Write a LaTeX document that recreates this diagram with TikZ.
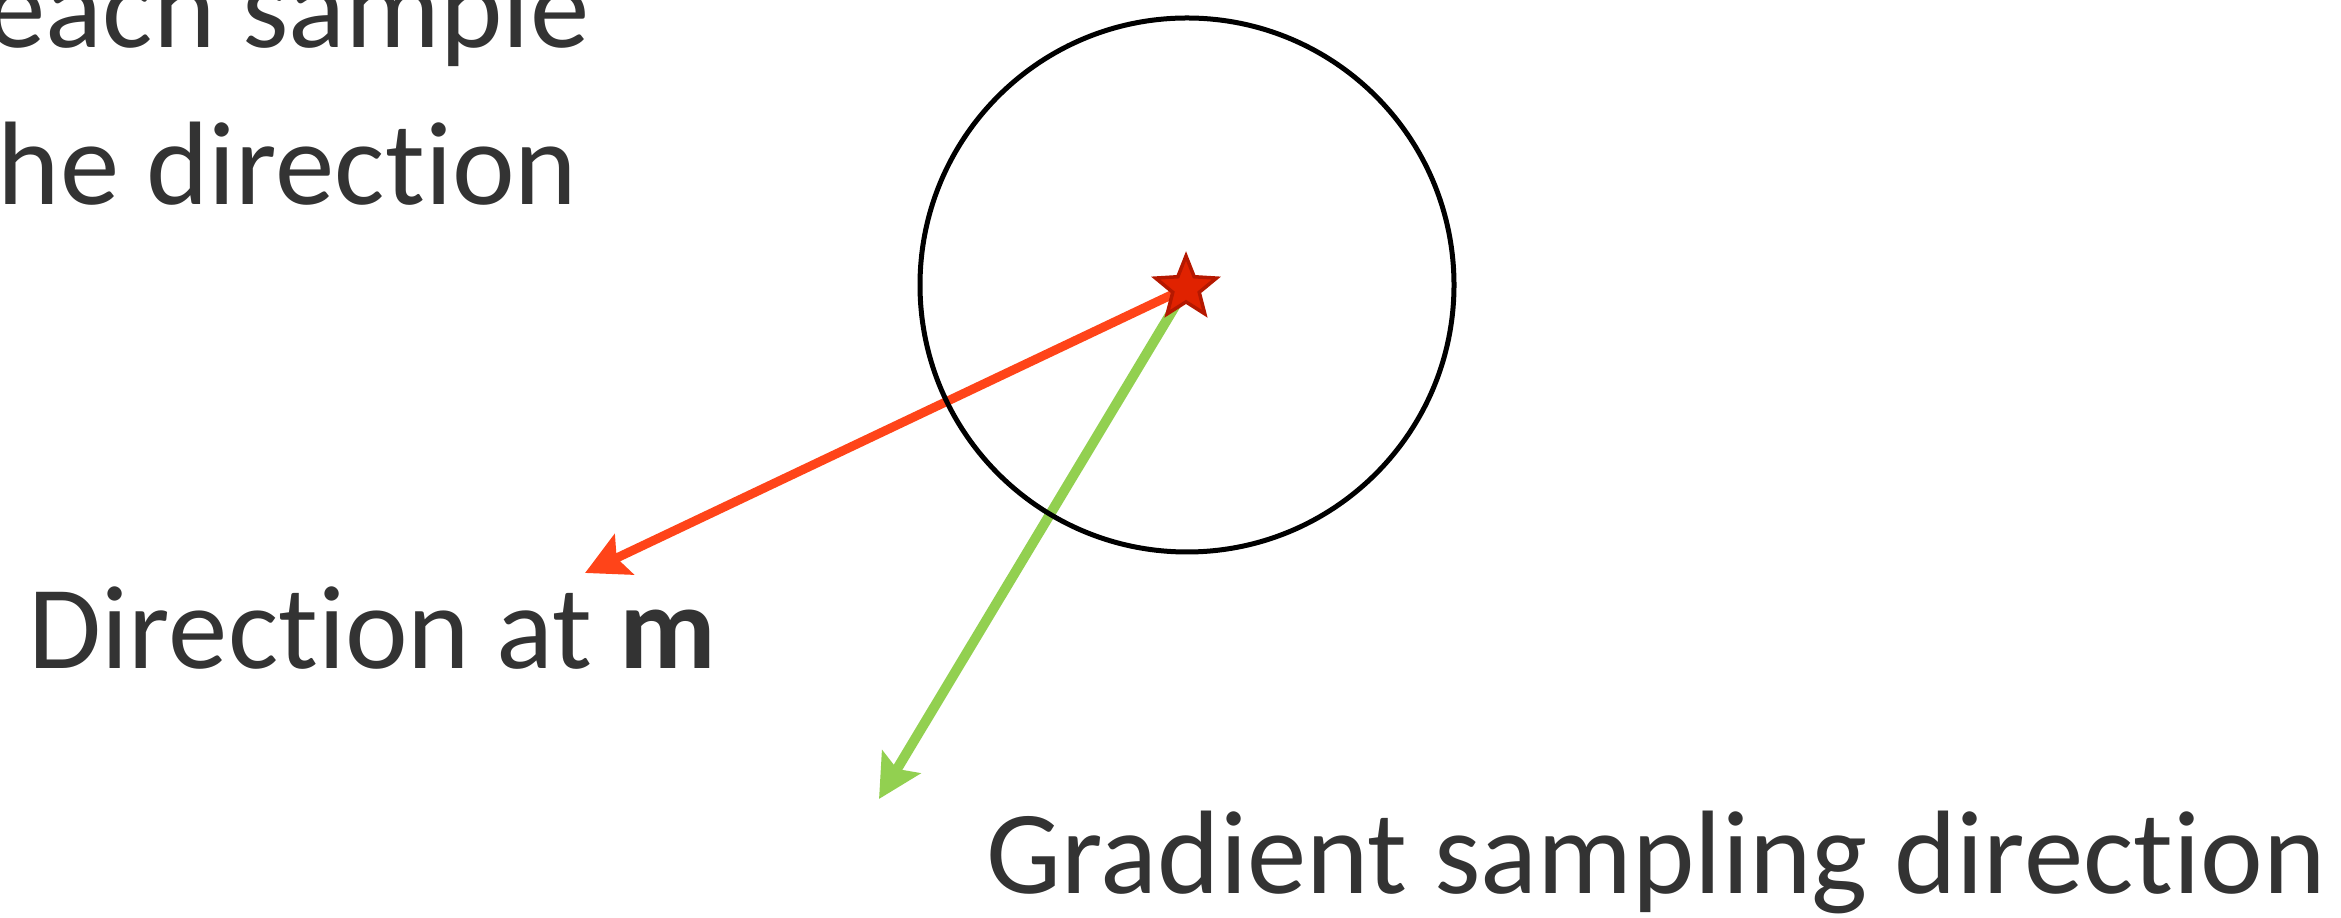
\documentclass[tikz,border=0pt]{standalone}
\usepackage{fontspec}
\setmainfont{Carlito}[Ligatures=NoCommon]
\usepackage{xcolor}
\usetikzlibrary{arrows.meta, shapes.geometric, backgrounds}
\definecolor{textgray}{HTML}{333333}
\definecolor{dirred}{HTML}{FF4419}
\definecolor{gradgreen}{HTML}{92D050}
\definecolor{starfill}{HTML}{E02200}
\definecolor{starline}{HTML}{B51800}
\begin{document}
\begin{tikzpicture} [
                label/.style={text=textgray, inner sep=0pt, font=\fontsize{33.8}{40}\selectfont},
                starmark/.style={star, star points=5, star point ratio=2.3, fill=starfill, draw=starline, line width=0.035cm, minimum size=0.64cm, inner sep=0pt},
                arrow/.style={-{Stealth[length=0.43cm, width=0.44cm, inset=0.08cm]}, line width=0.09cm}
            ]
            \useasboundingbox (0,0) rectangle (23.41,9.18);
            \clip (0,0) rectangle (23.41,9.18);

            % Texts
            \node[label, anchor=base east] (line1) at (5.90,8.70) {each sample};
            \node[label, anchor=base east] (line2) at (5.78,7.13) {the direction};
            \node[label, anchor=base west] (dirm) at (0.28,2.49) {Direction at {\bfseries m}};
            \node[label, anchor=base west] (gradlabel) at (9.86,0.24) {Gradient sampling direction};

            % Sampling circle and sample
            \node[draw, circle, line width=0.05cm, minimum size=5.34cm] (region) at (11.87,6.33) {};
            \node[starmark] (sample) at (11.86,6.30) {};

            % Arrow ends
            \coordinate (redtip) at (5.85,3.45);
            \coordinate (greentip) at (8.79,1.19);

            % Connections
            \begin{scope}[on background layer]
                \draw[arrow, dirred] (sample.center) -- (redtip);
                \draw[arrow, gradgreen, line width=0.1cm] (sample.center) -- (greentip);
            \end{scope}
        \end{tikzpicture}
\end{document}
